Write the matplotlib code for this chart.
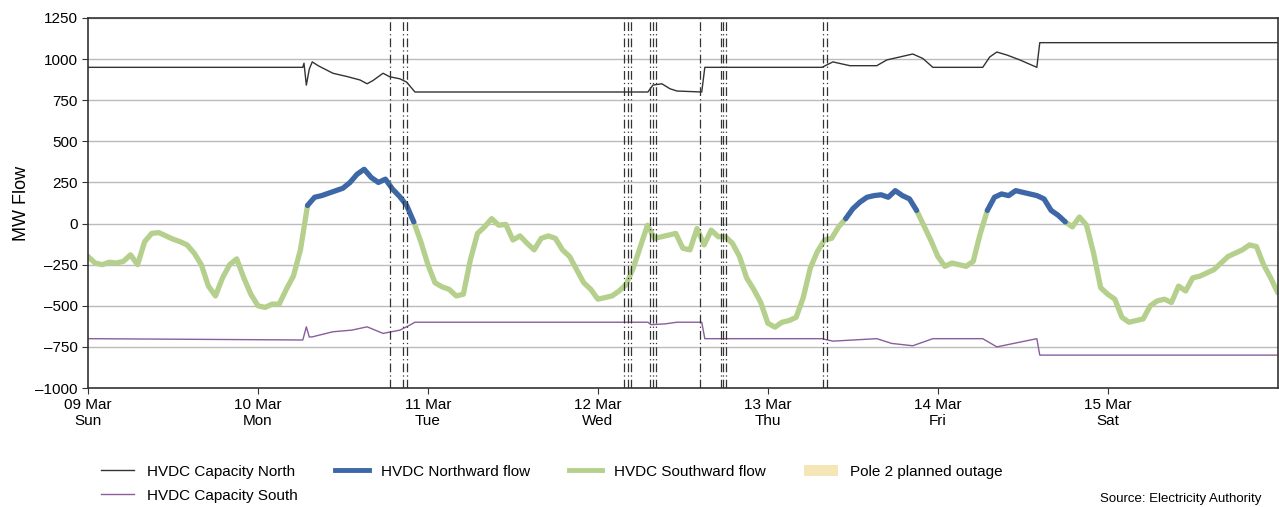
import numpy as np
import pandas as pd
import matplotlib.pyplot as plt
from matplotlib.patches import Patch
from matplotlib.lines import Line2D

plt.rcParams['font.family'] = ['Liberation Sans', 'DejaVu Sans']

# hourly HVDC flow (MW), + = northward, - = southward, 09 Mar 00:00 -> 16 Mar 00:00
flow = [
    -200, -240, -250, -235, -240, -230, -190, -250, -110, -60, -55, -75,
    -95, -110, -130, -180, -250, -380, -440, -330, -250, -215, -330, -430,
    -500, -510, -490, -490, -400, -320, -160, 110, 160, 170, 185, 200,
    215, 250, 300, 330, 280, 250, 270, 210, 165, 110, 10, -110,
    -250, -360, -385, -400, -440, -430, -220, -60, -20, 30, -10, -5,
    -100, -75, -120, -160, -90, -75, -90, -160, -200, -280, -360, -400,
    -460, -450, -440, -410, -370, -270, -140, -10, -90, -80, -70, -60,
    -150, -160, -30, -130, -40, -80, -80, -120, -200, -330, -400, -480,
    -606, -630, -600, -590, -570, -450, -270, -170, -100, -90, -20, 30,
    90, 130, 160, 170, 175, 160, 200, 170, 150, 80, -10, -100,
    -200, -260, -240, -250, -260, -230, -60, 80, 160, 180, 170, 200,
    190, 180, 170, 150, 80, 50, 10, -20, 40, -10, -180, -390,
    -430, -460, -570, -600, -590, -580, -500, -470, -460, -480, -380, -410,
    -330, -320, -300, -280, -240, -200, -180, -160, -130, -140, -250, -330,
    -420,
]
flow_time = pd.date_range('2025-03-09 00:00', periods=len(flow), freq='h')

cap_north_time = [
    '03-09 00:00', '03-10 06:20', '03-10 06:30', '03-10 06:50', '03-10 07:15',
    '03-10 07:40', '03-10 08:30', '03-10 10:35', '03-10 12:35', '03-10 14:25',
    '03-10 15:25', '03-10 16:15', '03-10 17:40', '03-10 18:35', '03-10 20:03',
    '03-10 21:00', '03-10 22:10', '03-12 07:04', '03-12 07:46', '03-12 09:02',
    '03-12 10:10', '03-12 11:10', '03-12 14:40', '03-12 15:06', '03-13 07:38',
    '03-13 09:11', '03-13 11:35', '03-13 15:23', '03-13 16:48', '03-13 18:38',
    '03-13 20:28', '03-13 21:53', '03-13 23:18', '03-14 06:21', '03-14 07:20',
    '03-14 08:20', '03-14 09:45', '03-14 11:35', '03-14 13:59', '03-14 14:24',
    '03-16 00:00',
]
cap_north = [
    950, 950, 975, 842, 940,
    983, 960, 914, 894, 873,
    850, 870, 914, 893, 880,
    860, 800, 800, 842, 850,
    820, 806, 800, 950, 950,
    983, 960, 960, 995, 1013,
    1031, 1004, 950, 950, 1013,
    1043, 1025, 995, 950, 1100,
    1100,
]

cap_south_time = [
    '03-09 00:00', '03-10 06:20', '03-10 06:50', '03-10 07:15', '03-10 07:40',
    '03-10 10:35', '03-10 13:15', '03-10 15:25', '03-10 17:40', '03-10 20:03',
    '03-10 21:25', '03-10 22:10', '03-12 07:04', '03-12 07:30', '03-12 09:30',
    '03-12 11:10', '03-12 14:40', '03-12 15:06', '03-13 07:38', '03-13 09:11',
    '03-13 15:23', '03-13 17:30', '03-13 20:28', '03-13 23:18', '03-14 06:21',
    '03-14 08:20', '03-14 13:59', '03-14 14:24', '03-16 00:00',
]
cap_south = [
    -700, -708, -628, -690, -689,
    -658, -648, -628, -668, -648,
    -618, -600, -600, -615, -610,
    -600, -600, -700, -700, -715,
    -700, -729, -743, -700, -700,
    -750, -700, -800, -800,
]

# switching events (vertical lines)
events = [
    '03-10 18:35', '03-10 20:28', '03-10 21:02',
    '03-12 03:44', '03-12 04:14', '03-12 04:44',
    '03-12 07:21', '03-12 07:46', '03-12 08:11',
    '03-12 14:24', '03-12 17:20', '03-12 17:41', '03-12 18:04',
    '03-13 07:48', '03-13 08:20',
]

day_ticks = pd.date_range('2025-03-09', periods=7, freq='D')
tick_labels = [d.strftime('%d %b') + '\n' + d.strftime('%a') for d in day_ticks]

def ts(lst):
    return pd.to_datetime(['2025-' + s for s in lst])

fig = plt.figure(figsize=(12.79, 5.07), dpi=100)
ax = fig.add_axes([0.0688, 0.2347, 0.9302, 0.7298])

col_north = '#333333'
col_south = '#8a5d9c'
col_blue = '#3d67a6'
col_green = '#b5cf8d'
col_outage = '#f5e6b8'

ax.set_ylim(-1000, 1250)
ax.set_yticks(np.arange(-1000, 1251, 250))
ax.set_yticklabels([f'{v}'.replace('-', '\u2013') for v in range(-1000, 1251, 250)])
ax.grid(axis='y', color='#bbbbbb', linewidth=1)
ax.set_axisbelow(True)

f = np.array(flow, dtype=float)
pos = f > 0
neg = ~pos
green_mask = neg | np.roll(neg, 1) | np.roll(neg, -1)
ax.plot(flow_time, np.where(green_mask, f, np.nan), color=col_green, lw=3.8,
        solid_joinstyle='round', solid_capstyle='round')
ax.plot(flow_time, np.where(pos, f, np.nan), color=col_blue, lw=3.8,
        solid_joinstyle='round', solid_capstyle='round')

ax.plot(ts(cap_north_time), cap_north, color=col_north, lw=1)
ax.plot(ts(cap_south_time), cap_south, color=col_south, lw=1)

for e in ts(events):
    ax.axvline(e, color='#333333', lw=0.9, linestyle=(0, (7, 2.5, 1, 2.5)))

ax.set_xlim(pd.Timestamp('2025-03-09'), pd.Timestamp('2025-03-16'))
ax.set_xticks(day_ticks)
ax.set_xticklabels(tick_labels, fontsize=11, linespacing=1.1)
ax.tick_params(axis='y', labelsize=11, length=4, color='#333333')
ax.tick_params(axis='x', length=4, color='#333333')
for s in ax.spines.values():
    s.set_color('#333333')
    s.set_linewidth(1.2)
ax.set_ylabel('MW Flow', fontsize=13)

handles = [
    Line2D([], [], color=col_north, lw=1),
    Line2D([], [], color=col_south, lw=1),
    Line2D([], [], color=col_blue, lw=3.5),
    Line2D([], [], color=col_green, lw=3.5),
    Patch(facecolor=col_outage, edgecolor='none'),
]
labels = ['HVDC Capacity North', 'HVDC Capacity South', 'HVDC Northward flow',
          'HVDC Southward flow', 'Pole 2 planned outage']
fig.legend(handles, labels, ncol=4, loc='upper left',
           bbox_to_anchor=(0.068, 1 - 451 / 507), bbox_transform=fig.transFigure,
           frameon=False, fontsize=11, handlelength=2.2, columnspacing=2.5,
           labelspacing=0.65)

fig.text(0.986, 1 - 499 / 507, 'Source: Electricity Authority', ha='right', va='center',
         fontsize=9.5)

fig.savefig('out.png', dpi=100)
